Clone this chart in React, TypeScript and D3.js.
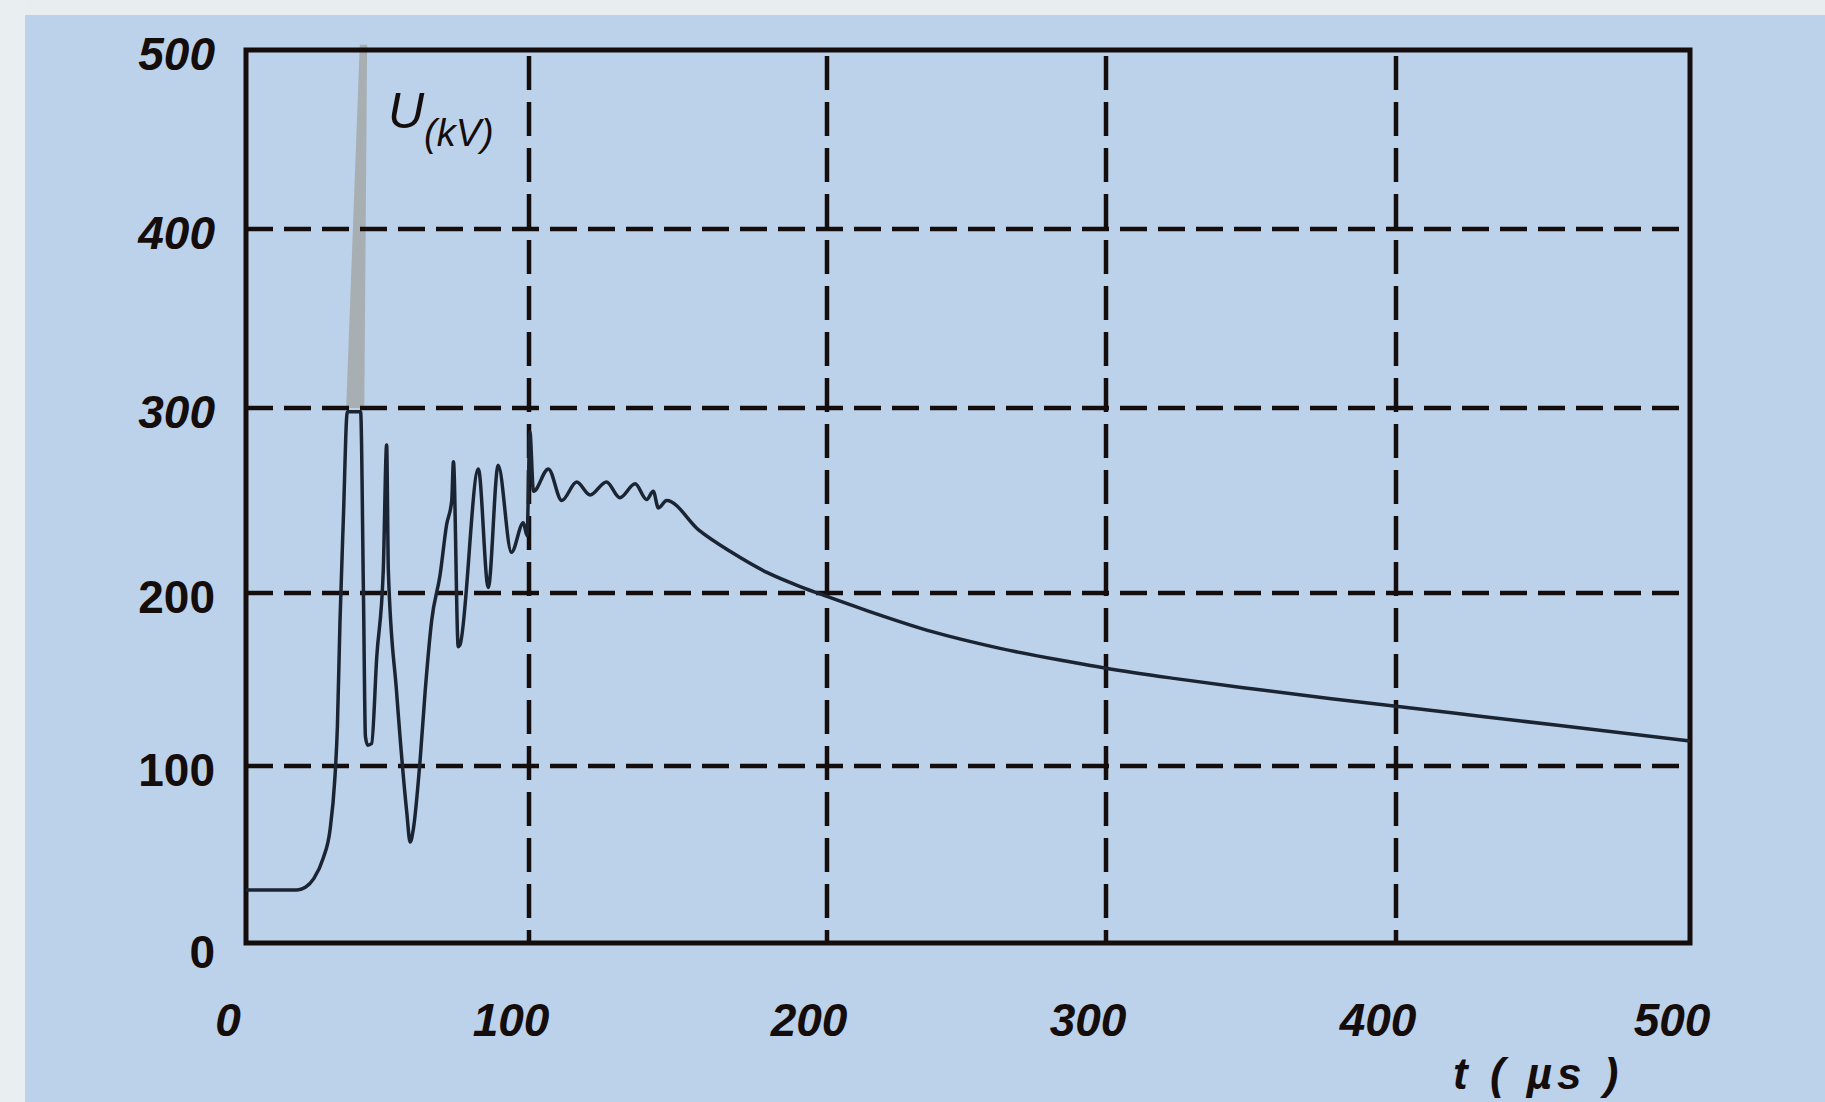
import React, { useEffect, useRef } from 'react';
import * as d3 from 'd3';

// axis ticks (the grid on the scan is hand drawn, so the scales are piecewise)
const tickValuesX = [0, 100, 200, 300, 400, 500];
const tickValuesY = [0, 100, 200, 300, 400, 500];

// voltage trace U(kV) against t (µs)
const timeUs = [
  0, 18, 21, 24, 27.3, 29.7, 31.4, 32.3, 33.2, 34.4, 35.8,
  40.5, 41.5, 42.2, 43, 44.4, 46.2, 48.5, 49.7, 50.3, 53.2, 56.8, 58,
  59.1, 61.5, 63.3, 65.6, 68.6, 70.9, 72.7, 73.3, 75, 75.6, 82.1, 85.6, 89.1,
  93.8, 98, 99.3, 100.3, 101.5, 106.5, 111, 116, 120.5, 126, 130.5, 135.6,
  139.5, 141.7, 143.4, 146.2, 157, 168, 180, 191, 200, 214, 238, 262, 286,
  300, 324, 351, 377, 400, 430, 455, 500,
];
const voltageKv = [
  30, 30, 31.5, 36.5, 48, 64, 93, 123, 183, 240, 298,
  298, 200, 117, 112, 113, 163, 212, 280, 212, 143, 74, 57,
  64, 103, 143, 184, 210, 237, 250, 271, 169, 170, 267, 203, 269,
  222, 238, 231, 287, 255, 267, 250, 260, 253, 260, 251.5, 259,
  250.5, 255, 246, 250, 234, 222, 211, 203.5, 198, 190, 177.5, 168, 160.5,
  156.5, 150.5, 144.5, 139, 134.5, 128.5, 123.5, 114.5,
];

// the off-scale part of the first peak, printed grey on the scan
const peakT = [35.4, 40.2, 42.8, 41.8];
const peakV = [300, 503, 503, 300];

const App: React.FC = () => {
  const svgRef = useRef<SVGSVGElement>(null);

  useEffect(() => {
    if (!svgRef.current) return;
    const svg = d3.select(svgRef.current);
    svg.selectAll('*').remove();

    const width = 1825;
    const height = 1102;

    const x = d3.scaleLinear().domain(tickValuesX).range([246, 529, 827, 1106, 1396, 1690]);
    const y = d3.scaleLinear().domain(tickValuesY).range([943, 766, 593, 408, 229, 50]);

    // paper
    svg.append('rect').attr('width', width).attr('height', height).attr('fill', '#bcd2ea');
    svg.append('rect').attr('width', width).attr('height', 15).attr('fill', '#e8edf0');
    svg.append('rect').attr('width', 25).attr('height', height).attr('fill', '#e9eef0');

    const ink = '#150d0b';

    // grey clipped peak
    const peakLine = d3.line<number>()
      .x((d) => x(peakT[d]))
      .y((d) => y(peakV[d]));
    svg.append('path')
      .attr('d', peakLine(d3.range(peakT.length)) + 'Z')
      .attr('fill', '#a8afb2');

    // grid
    const grid = svg.append('g').attr('stroke', ink).attr('stroke-width', 4.5).attr('fill', 'none');
    grid.selectAll('line.h')
      .data(tickValuesY.slice(1, -1))
      .join('line')
      .attr('class', 'h')
      .attr('x1', x(0))
      .attr('x2', x(500))
      .attr('y1', (d) => y(d))
      .attr('y2', (d) => y(d))
      .attr('stroke-dasharray', '27 11');
    grid.selectAll('line.v')
      .data(tickValuesX.slice(1, -1))
      .join('line')
      .attr('class', 'v')
      .attr('x1', (d) => x(d))
      .attr('x2', (d) => x(d))
      .attr('y1', y(500) + 6)
      .attr('y2', y(0))
      .attr('stroke-dasharray', '34 12');

    // frame
    svg.append('rect')
      .attr('x', x(0))
      .attr('y', y(500))
      .attr('width', x(500) - x(0))
      .attr('height', y(0) - y(500))
      .attr('fill', 'none')
      .attr('stroke', ink)
      .attr('stroke-width', 5);

    // trace
    const trace = d3.line<number>()
      .x((d) => x(timeUs[d]))
      .y((d) => y(voltageKv[d]))
      .curve(d3.curveMonotoneX);
    svg.append('path')
      .attr('d', trace(d3.range(timeUs.length)))
      .attr('fill', 'none')
      .attr('stroke', '#1b2433')
      .attr('stroke-width', 3.5)
      .attr('stroke-linejoin', 'round');

    const font = "'Liberation Sans', Arial, sans-serif";

    // y tick labels
    svg.append('g')
      .selectAll('text')
      .data(tickValuesY)
      .join('text')
      .attr('x', 215)
      .attr('y', (d) => y(d) + (d === 0 ? 25 : 20))
      .attr('text-anchor', 'end')
      .attr('font-family', font)
      .attr('font-size', 46)
      .attr('font-weight', 'bold')
      .attr('font-style', (d) => (d >= 300 ? 'italic' : 'normal'))
      .attr('fill', ink)
      .text((d) => d);

    // x tick labels
    svg.append('g')
      .selectAll('text')
      .data(tickValuesX)
      .join('text')
      .attr('x', (d) => x(d) - 18)
      .attr('y', 1036)
      .attr('text-anchor', 'middle')
      .attr('font-family', font)
      .attr('font-size', 46)
      .attr('font-weight', 'bold')
      .attr('font-style', 'italic')
      .attr('fill', ink)
      .text((d) => d);

    // axis titles
    const uLabel = svg.append('text')
      .attr('x', 388)
      .attr('y', 128)
      .attr('font-family', font)
      .attr('font-style', 'italic')
      .attr('fill', ink);
    uLabel.append('tspan').attr('font-size', 50).text('U');
    uLabel.append('tspan').attr('font-size', 38).attr('dy', 18).text('(kV)');

    svg.append('text')
      .attr('x', 1453)
      .attr('y', 1089)
      .attr('font-family', font)
      .attr('font-size', 44)
      .attr('font-weight', 'bold')
      .attr('font-style', 'italic')
      .attr('letter-spacing', 5)
      .attr('xml:space', 'preserve')
      .attr('fill', ink)
      .text('t ( µs )');
  }, []);

  return (
    <svg
      ref={svgRef}
      width={1825}
      height={1102}
      style={{ position: 'absolute', left: 0, top: 0, display: 'block' }}
    />
  );
};

export default App;
